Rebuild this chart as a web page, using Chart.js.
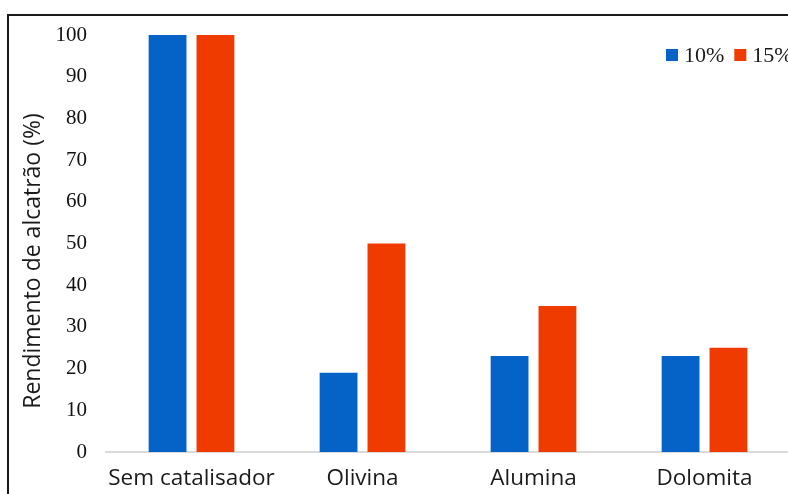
<!DOCTYPE html>
<html>
<head>
<meta charset="utf-8">
<script src="https://cdn.jsdelivr.net/npm/chart.js@4"></script>
<style>
  html, body { margin: 0; padding: 0; background: #fff; overflow: hidden; width: 788px; height: 494px; }
  #wrap { position: absolute; left: 0; top: 0; width: 800px; height: 494px; }
  #frame { position: absolute; left: 7px; top: 14px; width: 900px; height: 600px;
           border-top: 2px solid #1a1a1a; border-left: 2px solid #1a1a1a; pointer-events: none; }
</style>
</head>
<body>
<div id="wrap"><canvas id="c" width="800" height="494"></canvas></div>
<div id="frame"></div>
<script>
// Catalyst categories and tar yield (%) for each catalyst loading
const categories = ['Sem catalisador', 'Olivina', 'Alumina', 'Dolomita'];
const seriesNames = ['10%', '15%'];
const yield10 = [100, 19, 23, 23];
const yield15 = [100, 50, 35, 25];
const yTicks = [0, 10, 20, 30, 40, 50, 60, 70, 80, 90, 100];
const yAxisTitle = 'Rendimento de alcatrão (%)';

const BLUE = '#0563c8';
const ORANGE = '#ef3b00';

// Legend drawn inside the plot area, top right
const legendInPlot = {
  id: 'legendInPlot',
  afterDraw(chart) {
    const { ctx } = chart;
    ctx.save();
    ctx.font = '22px "Liberation Serif", "Times New Roman", serif';
    ctx.textBaseline = 'middle';
    ctx.textAlign = 'left';
    let x = 666;
    const y = 55;
    chart.data.datasets.forEach(ds => {
      ctx.fillStyle = ds.backgroundColor;
      ctx.fillRect(x, y - 6, 12, 12);
      ctx.fillStyle = '#1a1a1a';
      ctx.fillText(ds.label, x + 18, y + 1);
      x += 18 + ctx.measureText(ds.label).width + 10;
    });
    ctx.restore();
  }
};

// Vertical y-axis title
const yTitle = {
  id: 'yTitle',
  afterDraw(chart) {
    const { ctx } = chart;
    ctx.save();
    ctx.translate(33, 261);
    ctx.rotate(-Math.PI / 2);
    ctx.font = '23px "Open Sans", sans-serif';
    ctx.fillStyle = '#1a1a1a';
    ctx.textAlign = 'center';
    ctx.textBaseline = 'middle';
    ctx.fillText(yAxisTitle, 0, 0);
    ctx.restore();
  }
};

new Chart(document.getElementById('c'), {
  type: 'bar',
  data: {
    labels: categories,
    datasets: [
      { label: seriesNames[0], data: yield10, backgroundColor: BLUE },
      { label: seriesNames[1], data: yield15, backgroundColor: ORANGE }
    ]
  },
  options: {
    responsive: false,
    animation: false,
    devicePixelRatio: 1,
    layout: { padding: { left: 0, right: 10, top: 35, bottom: 0 } },
    datasets: { bar: { categoryPercentage: 0.56, barPercentage: 0.79 } },
    plugins: { legend: { display: false }, tooltip: { enabled: false } },
    scales: {
      x: {
        grid: { display: false, drawTicks: false },
        border: { display: true, color: '#d9d9d9', width: 2 },
        ticks: {
          font: { family: '"Open Sans", sans-serif', size: 22.5 },
          color: '#1a1a1a',
          padding: 13,
          maxRotation: 0
        },
        afterFit(scale) { scale.height = 42; }
      },
      y: {
        min: 0, max: 100,
        grid: { display: false, drawTicks: false },
        border: { display: false },
        afterBuildTicks(scale) { scale.ticks = yTicks.map(v => ({ value: v })); },
        ticks: {
          font: { family: '"Liberation Serif", "Times New Roman", serif', size: 21 },
          color: '#111',
          padding: 19
        },
        afterFit(scale) { scale.width = 106; }
      }
    }
  },
  plugins: [legendInPlot, yTitle]
});
</script>
</body>
</html>
